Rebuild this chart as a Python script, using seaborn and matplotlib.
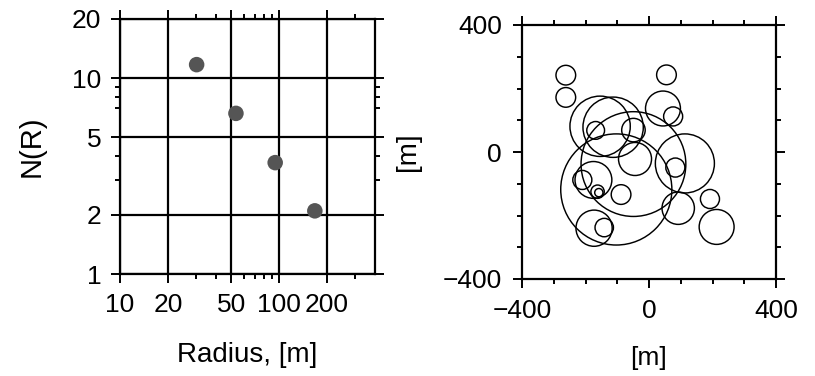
import numpy as np
import pandas as pd
import matplotlib
matplotlib.use("Agg")
import matplotlib.pyplot as plt
import seaborn as sns
from matplotlib.patches import Circle
from matplotlib.ticker import NullFormatter

sns.set_style("ticks")
plt.rcParams["font.family"] = ["Liberation Sans", "DejaVu Sans"]

# ---- data: left panel (size distribution) ----
radius_m = [30.3, 53.5, 94.4, 167.5]
n_r = [11.7, 6.6, 3.7, 2.1]
x_major = [10, 20, 50, 100, 200]
x_major_labels = ["10", "20", "50", "100", "200"]
x_minor = [30, 40, 60, 70, 80, 90, 300]
y_major = [1, 2, 5, 10, 20]
y_major_labels = ["1", "2", "5", "10", "20"]
y_minor = [3, 4, 7, 8, 9]

# ---- data: right panel (circle map, metres) ----
circle_x = [-262, -262, 55, 44, 76, -154, -113, -168, -49, -44, -49, -103,
            113, 83, -175, -210, -162, -158, -88, 92, 192, 213, -173, -141]
circle_y = [242, 172, 243, 137, 112, 81, 78, 68, 69, -22, -38, -118,
            -36, -49, -88, -88, -125, -128, -134, -177, -148, -236, -240, -238]
circle_r = [31, 31, 31, 55, 30, 95, 95, 28, 37, 52, 165, 175,
            93, 30, 58, 30, 21, 13, 31, 51, 30, 55, 57, 29]
map_ticks = [-400, 0, 400]
map_tick_labels = ["\u2212400", "0", "400"]
map_minor = [-300, -200, -100, 100, 200, 300]

W, H = 815, 376
fig = plt.figure(figsize=(W / 100, H / 100), dpi=100)
ax1 = fig.add_axes([120 / W, 1 - 274 / H, 255 / W, 255 / H])
ax2 = fig.add_axes([522 / W, 1 - 279 / H, 254 / W, 254 / H])

FS = 19

# ---- left panel ----
df = pd.DataFrame({"radius": radius_m, "n": n_r})
sns.scatterplot(data=df, x="radius", y="n", ax=ax1, s=125, color="#555555",
                edgecolor="none", zorder=3, legend=False)
ax1.set_xscale("log")
ax1.set_yscale("log")
ax1.set_xlim(10, 400)
ax1.set_ylim(1, 20)
ax1.set_xticks(x_major, x_major_labels)
ax1.set_xticks(x_minor, minor=True)
ax1.xaxis.set_minor_formatter(NullFormatter())
ax1.set_yticks(y_major, y_major_labels)
ax1.set_yticks(y_minor, minor=True)
ax1.yaxis.set_minor_formatter(NullFormatter())
ax1.grid(True, which="major", color="black", lw=1.6)
ax1.set_axisbelow(True)
ax1.set_xlabel("Radius, [m]", fontsize=20, color="black", va="center")
ax1.xaxis.set_label_coords(0.5, (274 - 355) / 255)
ax1.set_ylabel("N(R)", fontsize=21, color="black", va="center")
ax1.yaxis.set_label_coords((32 - 120) / 255, 0.5)

# ---- right panel ----
for cx, cy, r in zip(circle_x, circle_y, circle_r):
    ax2.add_patch(Circle((cx, cy), r, fill=False, ec="black", lw=1.05))
ax2.set_xlim(-400, 400)
ax2.set_ylim(-400, 400)
ax2.set_xticks(map_ticks, map_tick_labels)
ax2.set_yticks(map_ticks, map_tick_labels)
ax2.set_xticks(map_minor, minor=True)
ax2.set_yticks(map_minor, minor=True)
ax2.set_xlabel("[m]", fontsize=19, color="black", va="center")
ax2.xaxis.set_label_coords(0.5, (279 - 358) / 254)
ax2.set_ylabel("[m]", fontsize=20, color="black", va="center")
ax2.yaxis.set_label_coords((408 - 522) / 254, 0.5)

for ax in (ax1, ax2):
    for sp in ax.spines.values():
        sp.set_visible(True)
        sp.set_color("black")
        sp.set_linewidth(1.6)
    ax.tick_params(which="both", direction="out", top=True, right=True,
                   color="black", width=1.4, labelsize=FS, labelcolor="black")
    ax.tick_params(which="major", length=6.5, pad=7)
    ax.tick_params(which="minor", length=3.6)

ax2.tick_params(which="major", length=6.5, pad=8)

fig.savefig("out.png", dpi=100)
